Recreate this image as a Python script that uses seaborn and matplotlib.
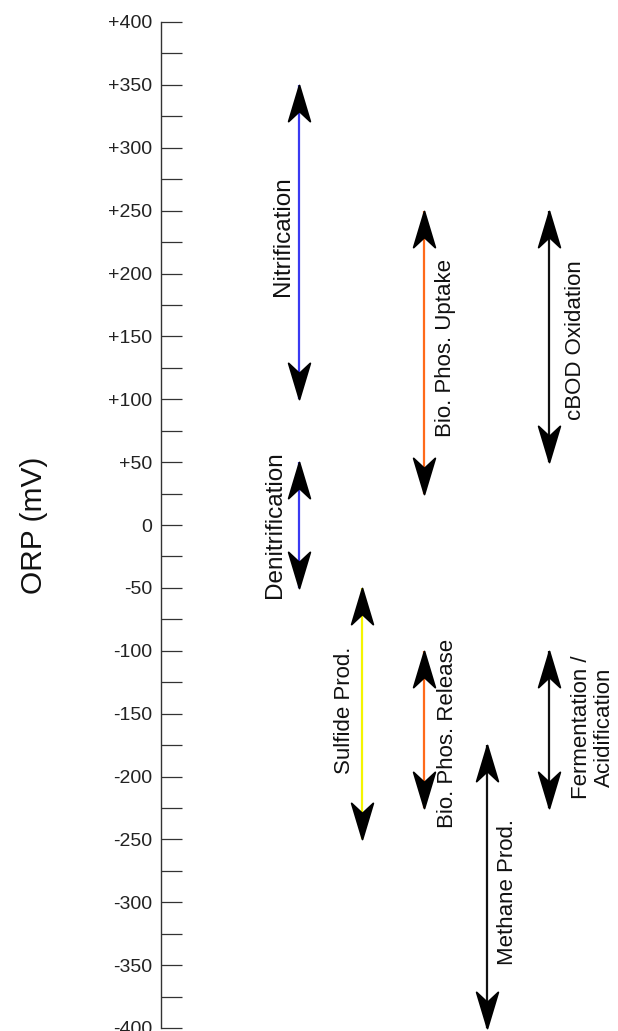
import numpy as np
import pandas as pd
import matplotlib
matplotlib.use("Agg")
import matplotlib.pyplot as plt
from matplotlib.path import Path
import seaborn as sns

# ORP operating windows (mV) of the treatment processes
processes = [
    "Nitrification",
    "Denitrification",
    "Sulfide Prod.",
    "Bio. Phos. Uptake",
    "Bio. Phos. Release",
    "Methane Prod.",
    "cBOD Oxidation",
    "Fermentation /\nAcidification",
]
columns = [0, 0, 1, 2, 2, 3, 4, 4]
orp_low = [100, -50, -250, 25, -225, -400, 50, -225]
orp_high = [350, 50, -50, 250, -100, -175, 250, -100]

tick_values = [400, 350, 300, 250, 200, 150, 100, 50, 0,
               -50, -100, -150, -200, -250, -300, -350, -400]
tick_labels = ["+400", "+350", "+300", "+250", "+200", "+150", "+100", "+50", "0",
               "-50", "-100", "-150", "-200", "-250", "-300", "-350", "-400"]
minor_values = [375, 325, 275, 225, 175, 125, 75, 25, -25,
                -75, -125, -175, -225, -275, -325, -375]

# styling
line_colors = {
    "Nitrification": "#3a3af2",
    "Denitrification": "#3a3af2",
    "Sulfide Prod.": "#f5f500",
    "Bio. Phos. Uptake": "#ff6a1a",
    "Bio. Phos. Release": "#ff6a1a",
    "Methane Prod.": "#111111",
    "cBOD Oxidation": "#111111",
    "Fermentation /\nAcidification": "#111111",
}
# label placement: (offset from arrow in column units, centre in mV, font size)
label_place = {
    "Nitrification": (-0.26, 230, 17.5),
    "Denitrification": (-0.39, 0, 17.5),
    "Sulfide Prod.": (-0.28, -147, 16),
    "Bio. Phos. Uptake": (0.34, 141, 16),
    "Bio. Phos. Release": (0.37, -166, 16),
    "Methane Prod.": (0.34, -292, 16),
    "cBOD Oxidation": (0.42, 147, 16),
    "Fermentation /\nAcidification": (0.70, -161, 16),
}

sns.set_theme(style="white")
plt.rcParams["font.family"] = ["Liberation Sans", "DejaVu Sans"]

fig = plt.figure(figsize=(6.18, 10.31), dpi=100)
ax = fig.add_axes([161 / 618, 3 / 1031, 457 / 618, 1006 / 1031])

# coloured shafts
seg = pd.DataFrame({
    "process": np.repeat(processes, 2),
    "column": np.repeat(columns, 2),
    "orp": np.column_stack([orp_low, orp_high]).ravel(),
})
sns.lineplot(data=seg, x="column", y="orp", hue="process", units="process",
             estimator=None, sort=False, palette=line_colors, legend=False,
             linewidth=1.6, ax=ax, zorder=2, solid_capstyle="butt")

# concave arrow heads, tip at the data point
codes = [Path.MOVETO, Path.LINETO, Path.LINETO, Path.LINETO, Path.CLOSEPOLY]
head_up = Path([(0, 0), (0.3, -1), (0, -0.72), (-0.3, -1), (0, 0)], codes)
head_down = Path([(0, 0), (0.3, 1), (0, 0.72), (-0.3, 1), (0, 0)], codes)
for tips, head in ((orp_high, head_up), (orp_low, head_down)):
    ax.plot(columns, tips, linestyle="none", marker=head, markersize=52,
            color="black", mec="black", mew=1.3, clip_on=False, zorder=3)

for name, col in zip(processes, columns):
    dx, yc, fs = label_place[name]
    ax.text(col + dx, yc, name, rotation=90, ha="center", va="center",
            fontsize=fs, color="#111111", linespacing=1.15)

ax.set_xlim(-2.208, 5.104)
ax.set_ylim(-400, 400)
ax.set_xticks([])
ax.set_yticks(tick_values, tick_labels)
ax.set_yticks(minor_values, minor=True)
ax.tick_params(axis="y", which="both", direction="in", length=15, width=0.9,
               color="#333333", pad=6.5, labelsize=14, labelcolor="#222222",
               left=True)
for side in ["top", "right", "bottom"]:
    ax.spines[side].set_visible(False)
ax.spines["left"].set_color("#333333")
ax.spines["left"].set_linewidth(1.0)
ax.set_xlabel("")
ax.set_ylabel("ORP (mV)", fontsize=21.5, color="#111111")
ax.yaxis.set_label_coords(-0.247, 0.5)

fig.savefig("out.png", dpi=100)
